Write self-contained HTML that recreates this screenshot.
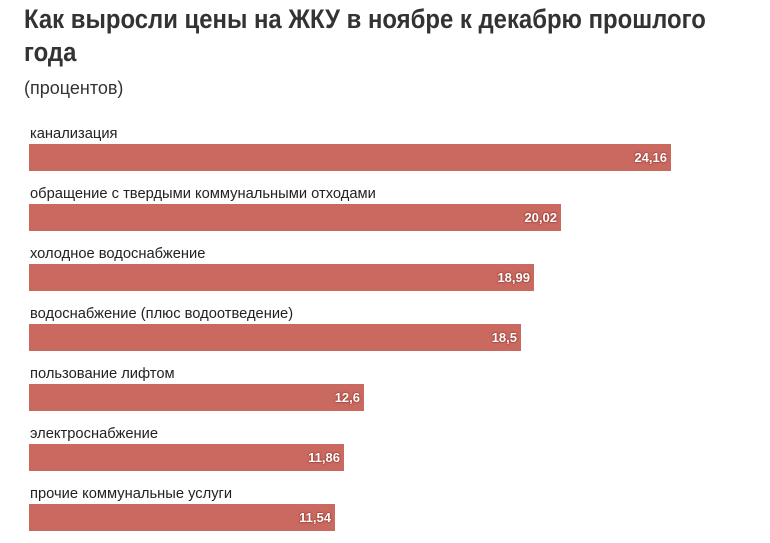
<!DOCTYPE html>
<html><head><meta charset="utf-8"><style>
body{margin:0;width:770px;height:543px;background:#fff;position:relative;overflow:hidden;font-family:"Liberation Sans",sans-serif;color:#333}
.t{position:absolute;left:24px;top:3px;width:800px;font-family:"Liberation Sans Narrow","Liberation Sans",sans-serif;font-weight:bold;font-size:27px;line-height:33px;color:#333;transform:scaleX(0.885);transform-origin:left top;white-space:nowrap}
.s{position:absolute;left:24px;top:78px;font-size:18px;color:#333}
.l{position:absolute;left:30px;font-size:15px;color:#222;white-space:nowrap;transform:scaleX(0.98);transform-origin:left top}
.b{position:absolute;left:29px;height:27px;background:#c9695f}
.v{position:absolute;right:4px;top:6px;font-family:"Liberation Sans Narrow","Liberation Sans",sans-serif;font-weight:bold;font-size:13px;color:#fff;text-shadow:0 0 2px #8a2a22,0 0 1px #8a2a22}
</style></head><body>
<div class="t">Как выросли цены на ЖКУ в ноябре к декабрю прошлого<br>года</div>
<div class="s">(процентов)</div>
<div class="l" style="top:125px">канализация</div>
<div class="b" style="top:144px;width:642px"><span class="v">24,16</span></div>
<div class="l" style="top:185px">обращение с твердыми коммунальными отходами</div>
<div class="b" style="top:204px;width:532px"><span class="v">20,02</span></div>
<div class="l" style="top:245px">холодное водоснабжение</div>
<div class="b" style="top:264px;width:505px"><span class="v">18,99</span></div>
<div class="l" style="top:305px">водоснабжение (плюс водоотведение)</div>
<div class="b" style="top:324px;width:492px"><span class="v">18,5</span></div>
<div class="l" style="top:365px">пользование лифтом</div>
<div class="b" style="top:384px;width:335px"><span class="v">12,6</span></div>
<div class="l" style="top:425px">электроснабжение</div>
<div class="b" style="top:444px;width:315px"><span class="v">11,86</span></div>
<div class="l" style="top:485px">прочие коммунальные услуги</div>
<div class="b" style="top:504px;width:306px"><span class="v">11,54</span></div>
</body></html>
